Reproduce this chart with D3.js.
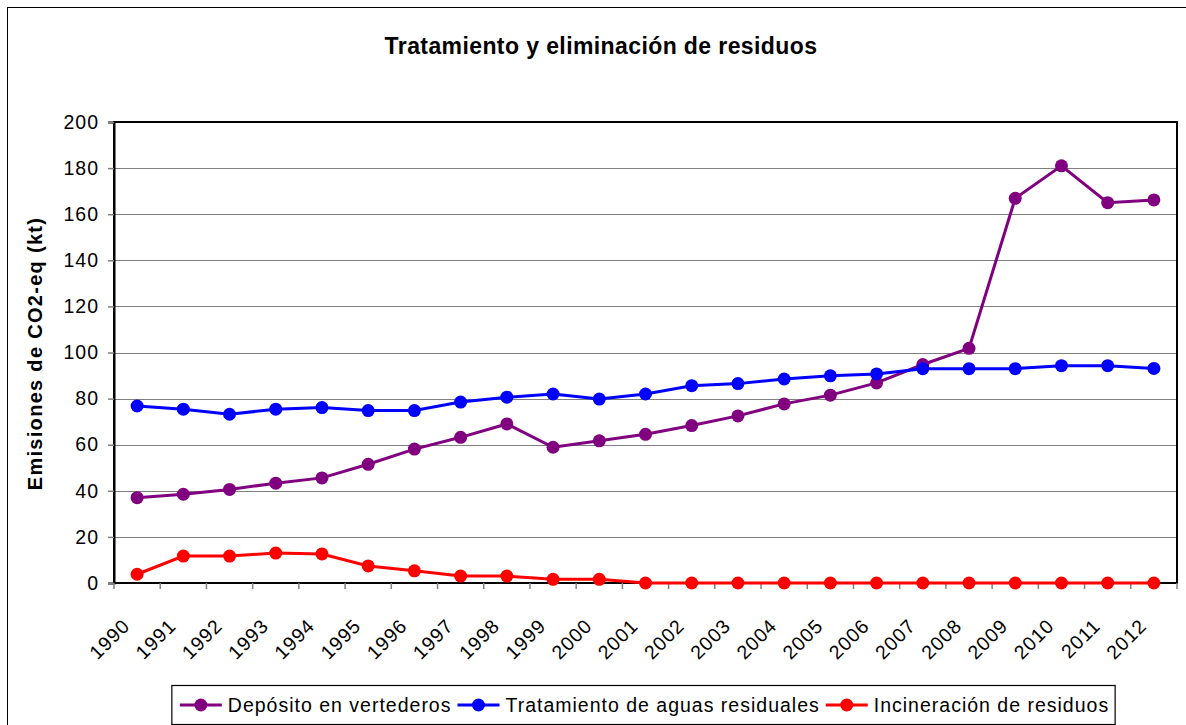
<html>
<style>
  body { margin: 0; background: #fff; }
  text { font-family: "Liberation Sans", Arial, sans-serif; }
</style>
<body>
<script src="https://d3js.org/d3.v7.min.js"></script>
<script>
// data
const years = ["1990","1991","1992","1993","1994","1995","1996","1997","1998","1999","2000",
               "2001","2002","2003","2004","2005","2006","2007","2008","2009","2010","2011","2012"]
const vertederos = [37, 38.5, 40.6, 43.3, 45.6, 51.5, 58.1, 63.2, 69, 58.9, 61.7,
                    64.5, 68.3, 72.5, 77.7, 81.5, 86.8, 94.8, 101.8, 166.9, 181, 165, 166.2]
const aguas = [76.8, 75.4, 73.2, 75.4, 76.1, 74.8, 74.8, 78.5, 80.6, 82, 79.8,
               82, 85.6, 86.5, 88.5, 89.9, 90.7, 93, 93, 93, 94.3, 94.3, 93.1]
const incineracion = [3.8, 11.7, 11.7, 13, 12.6, 7.4, 5.3, 3, 3, 1.6, 1.6,
                      0, 0, 0, 0, 0, 0, 0, 0, 0, 0, 0, 0]
const seriesNames = ["Depósito en vertederos", "Tratamiento de aguas residuales", "Incineración de residuos"]
const seriesColors = ["#800080", "#0000ff", "#ff0000"]
const yTicks = [0, 20, 40, 60, 80, 100, 120, 140, 160, 180, 200]
const title = "Tratamiento y eliminación de residuos"
const yTitle = "Emisiones de CO2-eq (kt)"

const W = 1186, H = 725
const plot = {left: 114, right: 1177, top: 122, bottom: 583}

const svg = d3.select("body").append("svg")
    .attr("width", W)
    .attr("height", H)

// outer chart frame (runs off the picture right and bottom)
svg.append("rect")
    .attr("x", 7.5).attr("y", 7.5)
    .attr("width", W + 20).attr("height", H + 20)
    .attr("fill", "#fff").attr("stroke", "#000").attr("stroke-width", 1)

svg.append("text")
    .attr("x", 601).attr("y", 54)
    .attr("text-anchor", "middle")
    .attr("font-size", 23).attr("font-weight", "bold")
    .attr("letter-spacing", 0.4)
    .text(title)

let x = d3.scaleBand().domain(years).range([plot.left, plot.right]).padding(0)
let y = d3.scaleLinear().domain([0, 200]).range([plot.bottom, plot.top])
const bw = x.bandwidth()

// gridlines
svg.append("g")
    .selectAll("line")
    .data(yTicks.slice(1))
    .join("line")
    .attr("x1", plot.left).attr("x2", plot.right)
    .attr("y1", d => Math.round(y(d)) + 0.5).attr("y2", d => Math.round(y(d)) + 0.5)
    .attr("stroke", "#7f7f7f").attr("stroke-width", 1.2)

// plot frame
svg.append("rect")
    .attr("x", plot.left).attr("y", plot.top)
    .attr("width", plot.right - plot.left).attr("height", plot.bottom - plot.top)
    .attr("fill", "none").attr("stroke", "#000").attr("stroke-width", 2)

// y axis
const yAxis = svg.append("g")
    .attr("transform", `translate(${plot.left},0)`)
    .call(d3.axisLeft(y).tickValues(yTicks).tickSize(6).tickPadding(9))
yAxis.select(".domain").attr("stroke", "#000").attr("stroke-width", 2)
yAxis.selectAll(".tick line").attr("stroke", "#808080").attr("stroke-width", 1.5)
yAxis.selectAll(".tick text")
    .attr("font-family", '"Liberation Sans", Arial, sans-serif')
    .attr("font-size", 19.5).attr("letter-spacing", 1).attr("fill", "#000")

svg.append("text")
    .attr("transform", `translate(42,${(plot.top + plot.bottom) / 2 + 1}) rotate(-90)`)
    .attr("text-anchor", "middle")
    .attr("font-size", 20).attr("font-weight", "bold")
    .attr("letter-spacing", 1.3)
    .text(yTitle)

// x ticks at band edges
const edges = years.map(d => x(d)).concat([plot.right])
svg.append("g")
    .selectAll("line")
    .data(edges)
    .join("line")
    .attr("x1", d => d).attr("x2", d => d)
    .attr("y1", plot.bottom).attr("y2", plot.bottom + 6)
    .attr("stroke", "#808080").attr("stroke-width", 1.5)

svg.append("g")
    .selectAll("text")
    .data(years)
    .join("text")
    .attr("transform", d => `translate(${x(d) + bw / 2 - 6},${plot.bottom + 44}) rotate(-45)`)
    .attr("text-anchor", "end")
    .attr("font-size", 19.5).attr("letter-spacing", 1)
    .text(d => d)

// series
const allSeries = [vertederos, aguas, incineracion]
const line = d3.line().x((d, i) => x(years[i]) + bw / 2).y(d => y(d))

allSeries.forEach((vals, k) => {
    const g = svg.append("g")
    g.append("path")
        .datum(vals)
        .attr("d", line)
        .attr("fill", "none")
        .attr("stroke", seriesColors[k])
        .attr("stroke-width", 3)
    g.selectAll("circle")
        .data(vals)
        .join("circle")
        .attr("cx", (d, i) => x(years[i]) + bw / 2)
        .attr("cy", d => y(d))
        .attr("r", 6.5)
        .attr("fill", seriesColors[k])
})

// legend
const legend = svg.append("g")
const legBox = legend.append("rect")
    .attr("fill", "#fff").attr("stroke", "#000").attr("stroke-width", 1.2)
let cx = 0
const items = legend.append("g")
seriesNames.forEach((name, k) => {
    const it = items.append("g").attr("transform", `translate(${cx},0)`)
    it.append("line").attr("x1", 0).attr("x2", 42).attr("y1", 0).attr("y2", 0)
        .attr("stroke", seriesColors[k]).attr("stroke-width", 3)
    it.append("circle").attr("cx", 21).attr("cy", 0).attr("r", 6.5).attr("fill", seriesColors[k])
    const t = it.append("text").attr("x", 48).attr("y", 6.5)
        .attr("font-size", 19.5).attr("letter-spacing", 1).text(name)
    cx += 48 + t.node().getComputedTextLength() + 6
})
const legW = cx - 6 + 14
const legLeft = 643.5 - legW / 2
legBox.attr("x", legLeft).attr("y", 685.5).attr("width", legW).attr("height", 39)
items.attr("transform", `translate(${legLeft + 8},705)`)
</script>
</body>
</html>
